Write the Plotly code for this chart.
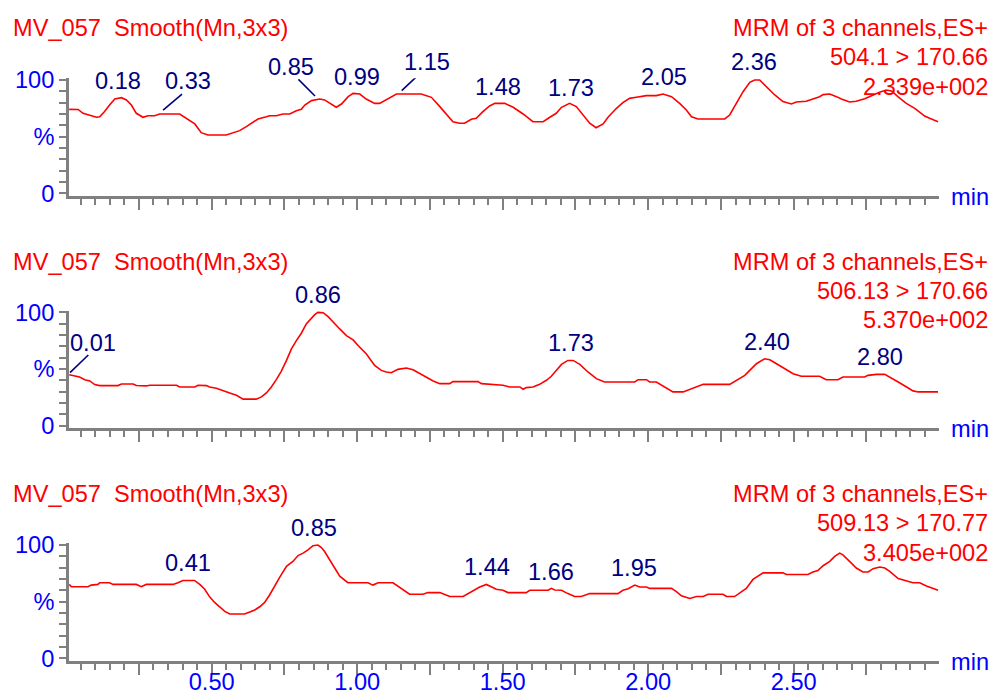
import plotly.graph_objects as go

W, H = 992, 696
FONT = "Liberation Sans, Arial, sans-serif"
FS = 23.6
RED = "#ff0000"
NAVY = "#000080"
BLUE = "#0000ff"
GRAY = "#808080"

# ---------------- data ----------------
sample = "MV_057\u00a0 Smooth(Mn,3x3)"
header = "MRM of 3 channels,ES+"
channels = ["504.1 > 170.66", "506.13 > 170.66", "509.13 > 170.77"]
intensities = ["2.339e+002", "5.370e+002", "3.405e+002"]

time1 = [0.01, 0.041, 0.058, 0.075, 0.104, 0.115, 0.132, 0.149, 0.167, 0.190, 0.207, 0.224, 0.241, 0.264,
         0.281, 0.304, 0.321, 0.390, 0.413, 0.442, 0.464, 0.487, 0.550, 0.573, 0.596, 0.619, 0.642, 0.659,
         0.688, 0.699, 0.722, 0.745, 0.768, 0.791, 0.808, 0.820, 0.843, 0.871, 0.888, 0.917, 0.928, 0.946,
         0.969, 0.986, 1.009, 1.031, 1.060, 1.077, 1.106, 1.135, 1.220, 1.255, 1.284, 1.307, 1.329, 1.352,
         1.369, 1.392, 1.409, 1.432, 1.455, 1.473, 1.507, 1.536, 1.570, 1.604, 1.639, 1.662, 1.684, 1.702,
         1.730, 1.753, 1.776, 1.799, 1.821, 1.845, 1.862, 1.891, 1.913, 1.936, 1.959, 1.994, 2.028, 2.051,
         2.080, 2.108, 2.131, 2.149, 2.171, 2.263, 2.280, 2.303, 2.326, 2.349, 2.366, 2.383, 2.406, 2.435,
         2.463, 2.492, 2.509, 2.543, 2.566, 2.589, 2.601, 2.624, 2.647, 2.664, 2.692, 2.715, 2.744, 2.772,
         2.795, 2.818, 2.836, 2.858, 2.887, 2.916, 2.950, 2.967, 2.996]
resp1 = [74.1, 74.0, 70.6, 69.1, 67.1, 67.6, 72.1, 77.9, 83.2, 84.4, 82.4, 77.9, 70.6, 67.1,
         68.5, 68.5, 70.0, 70.0, 66.2, 61.2, 53.5, 51.5, 51.5, 53.5, 55.3, 58.8, 62.4, 65.6,
         67.6, 68.5, 68.5, 70.0, 70.0, 72.9, 74.1, 77.9, 81.8, 83.2, 82.4, 77.1, 75.9, 78.8,
         85.3, 88.2, 87.6, 83.2, 79.4, 79.4, 83.8, 87.6, 87.6, 84.7, 76.5, 69.7, 63.2, 61.8,
         61.8, 65.3, 66.2, 72.1, 77.1, 79.4, 79.4, 75.9, 70.0, 63.2, 63.2, 67.1, 70.6, 75.9,
         79.4, 76.5, 69.1, 61.8, 57.9, 61.2, 67.1, 75.0, 80.0, 83.8, 84.7, 86.2, 86.2, 87.6,
         85.3, 79.4, 73.5, 67.6, 65.6, 65.6, 69.1, 79.4, 89.7, 97.9, 100.0, 100.0, 94.1, 86.8,
         80.9, 78.8, 80.6, 81.2, 83.2, 85.3, 87.1, 87.6, 85.3, 83.2, 80.6, 81.2, 83.5, 86.8,
         89.1, 91.2, 90.3, 85.3, 79.4, 75.0, 68.2, 66.2, 63.2]

time2 = [0.01, 0.029, 0.046, 0.064, 0.081, 0.098, 0.115, 0.178, 0.190, 0.230, 0.241, 0.275, 0.287, 0.379,
         0.390, 0.442, 0.453, 0.482, 0.493, 0.516, 0.539, 0.562, 0.585, 0.608, 0.653, 0.671, 0.688, 0.705,
         0.722, 0.739, 0.757, 0.774, 0.791, 0.808, 0.825, 0.842, 0.854, 0.865, 0.883, 0.900, 0.917, 0.940,
         0.963, 0.986, 1.003, 1.031, 1.060, 1.083, 1.100, 1.117, 1.140, 1.169, 1.192, 1.215, 1.238, 1.261,
         1.284, 1.318, 1.329, 1.415, 1.427, 1.455, 1.484, 1.501, 1.524, 1.559, 1.570, 1.581, 1.604, 1.627,
         1.650, 1.667, 1.684, 1.702, 1.724, 1.742, 1.765, 1.793, 1.822, 1.850, 1.954, 1.965, 1.994, 2.005,
         2.028, 2.051, 2.085, 2.120, 2.143, 2.166, 2.189, 2.280, 2.303, 2.332, 2.349, 2.372, 2.400, 2.418,
         2.441, 2.464, 2.498, 2.526, 2.589, 2.612, 2.652, 2.669, 2.744, 2.755, 2.784, 2.813, 2.830, 2.859,
         2.888, 2.910, 2.928, 2.996]
resp2 = [45.0, 43.6, 43.0, 40.6, 39.5, 36.3, 35.4, 35.4, 36.8, 36.8, 35.4, 35.1, 35.7, 35.7,
         34.2, 34.2, 35.7, 35.4, 34.2, 33.0, 30.7, 28.9, 26.9, 23.4, 23.4, 25.4, 28.9, 34.2,
         40.6, 48.0, 57.6, 67.8, 75.1, 81.6, 89.8, 95.0, 98.0, 100.0, 99.7, 96.2, 91.2, 85.4,
         79.5, 75.7, 70.8, 63.5, 53.2, 48.8, 47.4, 46.8, 49.7, 50.9, 49.4, 45.9, 42.4, 39.5,
         37.1, 37.1, 38.9, 38.9, 37.1, 36.5, 36.5, 35.7, 34.2, 34.2, 32.2, 33.6, 34.2, 36.5,
         40.1, 43.6, 48.8, 54.1, 57.6, 57.6, 54.1, 47.4, 41.5, 38.6, 38.6, 40.6, 40.6, 38.6,
         38.6, 34.8, 29.8, 29.8, 31.9, 34.2, 36.5, 36.5, 40.1, 44.4, 48.8, 54.7, 59.1, 58.2,
         54.7, 51.2, 45.9, 43.6, 43.6, 40.6, 40.6, 43.0, 43.0, 44.4, 45.3, 45.3, 43.0, 38.6,
         34.2, 30.7, 29.8, 29.8]

time3 = [0.01, 0.018, 0.075, 0.086, 0.109, 0.115, 0.149, 0.161, 0.241, 0.258, 0.275, 0.367, 0.384, 0.401,
         0.441, 0.459, 0.476, 0.493, 0.510, 0.527, 0.545, 0.562, 0.613, 0.631, 0.648, 0.665, 0.682, 0.699,
         0.716, 0.734, 0.757, 0.779, 0.797, 0.814, 0.831, 0.848, 0.865, 0.877, 0.888, 0.906, 0.923, 0.940,
         0.968, 1.037, 1.054, 1.072, 1.123, 1.140, 1.163, 1.180, 1.226, 1.243, 1.284, 1.318, 1.364, 1.381,
         1.404, 1.421, 1.444, 1.455, 1.478, 1.501, 1.518, 1.581, 1.593, 1.656, 1.667, 1.679, 1.702, 1.724,
         1.747, 1.770, 1.799, 1.896, 1.913, 1.931, 1.954, 1.971, 1.994, 2.005, 2.080, 2.097, 2.114, 2.143,
         2.166, 2.189, 2.206, 2.257, 2.269, 2.297, 2.314, 2.337, 2.360, 2.395, 2.463, 2.475, 2.549, 2.566,
         2.583, 2.601, 2.624, 2.641, 2.658, 2.669, 2.692, 2.715, 2.738, 2.756, 2.773, 2.796, 2.813, 2.830,
         2.859, 2.887, 2.910, 2.933, 2.956, 2.996]
resp3 = [65.2, 63.2, 63.2, 64.6, 65.2, 66.7, 66.7, 65.2, 65.2, 63.2, 65.2, 65.2, 66.7, 68.7,
         68.7, 65.2, 60.9, 54.2, 49.3, 45.5, 41.4, 39.1, 39.1, 40.9, 42.6, 45.5, 49.3, 55.9,
         63.8, 71.6, 81.2, 85.5, 90.7, 92.8, 95.7, 99.4, 100.0, 97.7, 94.2, 87.0, 79.7, 72.5,
         66.7, 66.7, 64.6, 66.7, 66.7, 63.8, 59.4, 56.5, 56.5, 58.0, 58.0, 54.5, 54.5, 57.1,
         60.9, 62.9, 65.2, 63.8, 60.9, 60.0, 58.0, 58.0, 60.0, 60.0, 61.7, 60.3, 60.0, 57.1,
         54.5, 54.5, 57.1, 57.1, 60.0, 61.4, 64.6, 62.9, 62.9, 61.7, 61.7, 58.8, 55.1, 52.8,
         54.5, 54.5, 56.5, 56.5, 54.5, 54.5, 57.4, 61.7, 69.6, 75.4, 75.4, 73.9, 73.9, 76.2,
         77.4, 81.7, 85.5, 89.9, 92.8, 91.3, 85.5, 79.7, 76.2, 76.2, 79.1, 80.6, 79.7, 76.8,
         70.4, 68.1, 66.7, 66.7, 63.8, 60.0]

# peak labels (retention time text)
peaks1 = ["0.18", "0.33", "0.85", "0.99", "1.15", "1.48", "1.73", "2.05", "2.36"]
peaks2 = ["0.01", "0.86", "1.73", "2.40", "2.80"]
peaks3 = ["0.41", "0.85", "1.44", "1.66", "1.95"]

xtick_vals = [0.25, 0.5, 0.75, 1.0, 1.25, 1.5, 1.75, 2.0, 2.25, 2.5, 2.75]
xtick_text = ["", "0.50", "", "1.00", "", "1.50", "", "2.00", "", "2.50", ""]
ytick_vals = [0, 10, 20, 30, 40, 50, 60, 70, 80, 90, 100]
ytick_text = ["0", "", "", "", "", "%", "", "", "", "", "100"]

# ---------------- layout helpers ----------------
peak_pos = [
    [(0.179, 81), (0.420, 81), (0.772, 66.7), (0.998, 76.7), (1.239, 61.7), (1.484, 86.7),
     (1.734, 88), (2.055, 76.7), (2.363, 62)],
    [(0.093, 343.3), (0.866, 295), (1.734, 343.3), (2.407, 341.7), (2.797, 356.7)],
    [(0.418, 563.3), (0.852, 528.3), (1.446, 567), (1.665, 571.7), (1.952, 568)],
]
leaders = [
    [((0.333, 73.5), (0.398, 87.6)), ((0.855, 85.9), (0.798, 100.6)), ((1.153, 90.6), (1.210, 104.4))],
    [((0.013, 46.8), (0.076, 62.4))],
    [],
]

x_left, x_right = 69.1, 939.2
panels_px = [(78.3, 196.0), (310.7, 428.4), (543.3, 661.0)]
title_px = [28, 261.5, 494]

fig = go.Figure()
times = [time1, time2, time3]
resps = [resp1, resp2, resp3]
peaks = [peaks1, peaks2, peaks3]

minor_vals = [round(0.05 * k, 2) for k in range(1, 60) if k % 5 != 0]

for i in range(3):
    xa = "x" if i == 0 else f"x{i+1}"
    ya = "y" if i == 0 else f"y{i+1}"
    fig.add_trace(go.Scatter(x=times[i], y=resps[i], mode="lines",
                             line=dict(color=RED, width=1.6, shape="linear"),
                             xaxis=xa, yaxis=ya, hoverinfo="skip", showlegend=False))
    top, bot = panels_px[i]
    xkey = "xaxis" if i == 0 else f"xaxis{i+1}"
    ykey = "yaxis" if i == 0 else f"yaxis{i+1}"
    fig.layout[xkey] = dict(
        domain=[x_left / W, x_right / W], range=[0.01, 3.0], anchor=ya, automargin=False,
        showgrid=False, zeroline=False, showline=True, linecolor=GRAY, linewidth=3,
        ticks="outside", ticklen=11, tickwidth=2, tickcolor=GRAY,
        tickmode="array", tickvals=xtick_vals, ticktext=xtick_text,
        showticklabels=(i == 2), tickfont=dict(family=FONT, size=FS, color=BLUE),
        ticklabelstandoff=-13,
        minor=dict(tickmode="array", tickvals=minor_vals, ticks="outside", ticklen=6,
                   tickwidth=2, tickcolor=GRAY, showgrid=False),
        fixedrange=True,
    )
    fig.layout[ykey] = dict(
        domain=[1 - bot / H, 1 - top / H], range=[-2.4, 101.5], anchor=xa, automargin=False,
        showgrid=False, zeroline=False, showline=True, linecolor=GRAY, linewidth=3,
        ticks="outside", ticklen=7, tickwidth=2, tickcolor=GRAY,
        tickmode="array", tickvals=ytick_vals, ticktext=ytick_text,
        tickfont=dict(family=FONT, size=FS, color=BLUE), fixedrange=True,
    )

    # header texts
    ty = title_px[i]
    fig.add_annotation(text=sample, xref="paper", yref="paper", x=11 / W, y=1 - ty / H,
                       xanchor="left", yanchor="middle", showarrow=False,
                       font=dict(family=FONT, size=FS, color=RED))
    for k, txt in enumerate([header, channels[i], intensities[i]]):
        fig.add_annotation(text=txt, xref="paper", yref="paper", x=990 / W,
                           y=1 - (ty + 29.3 * k) / H, xanchor="right", yanchor="middle",
                           showarrow=False, font=dict(family=FONT, size=FS, color=RED))
    fig.add_annotation(text="min", xref="paper", yref="paper", x=949 / W,
                       y=1 - (bot + 0.5) / H, xanchor="left", yanchor="middle",
                       showarrow=False, font=dict(family=FONT, size=FS, color=BLUE))
    # peak labels
    for lab, (px_t, py) in zip(peaks[i], peak_pos[i]):
        fig.add_annotation(text=lab, xref=xa, yref="paper", x=px_t, y=1 - py / H,
                           xanchor="center", yanchor="middle", showarrow=False,
                           font=dict(family=FONT, size=FS, color=NAVY))
    for (a, b) in leaders[i]:
        fig.add_shape(type="line", xref=xa, yref=ya, x0=a[0], y0=a[1], x1=b[0], y1=b[1],
                      line=dict(color=NAVY, width=1.6))

fig.update_layout(width=W, height=H, autosize=False,
                  margin=dict(l=0, r=0, t=0, b=0, pad=0, autoexpand=False),
                  paper_bgcolor="white", plot_bgcolor="white",
                  font=dict(family=FONT, size=FS))

fig.write_html(
    "out.html",
    config={"displayModeBar": False},
    post_script="document.body.style.margin='0';document.body.style.padding='0';"
                "document.body.style.overflow='hidden';"
                "document.documentElement.style.overflow='hidden';",
)
